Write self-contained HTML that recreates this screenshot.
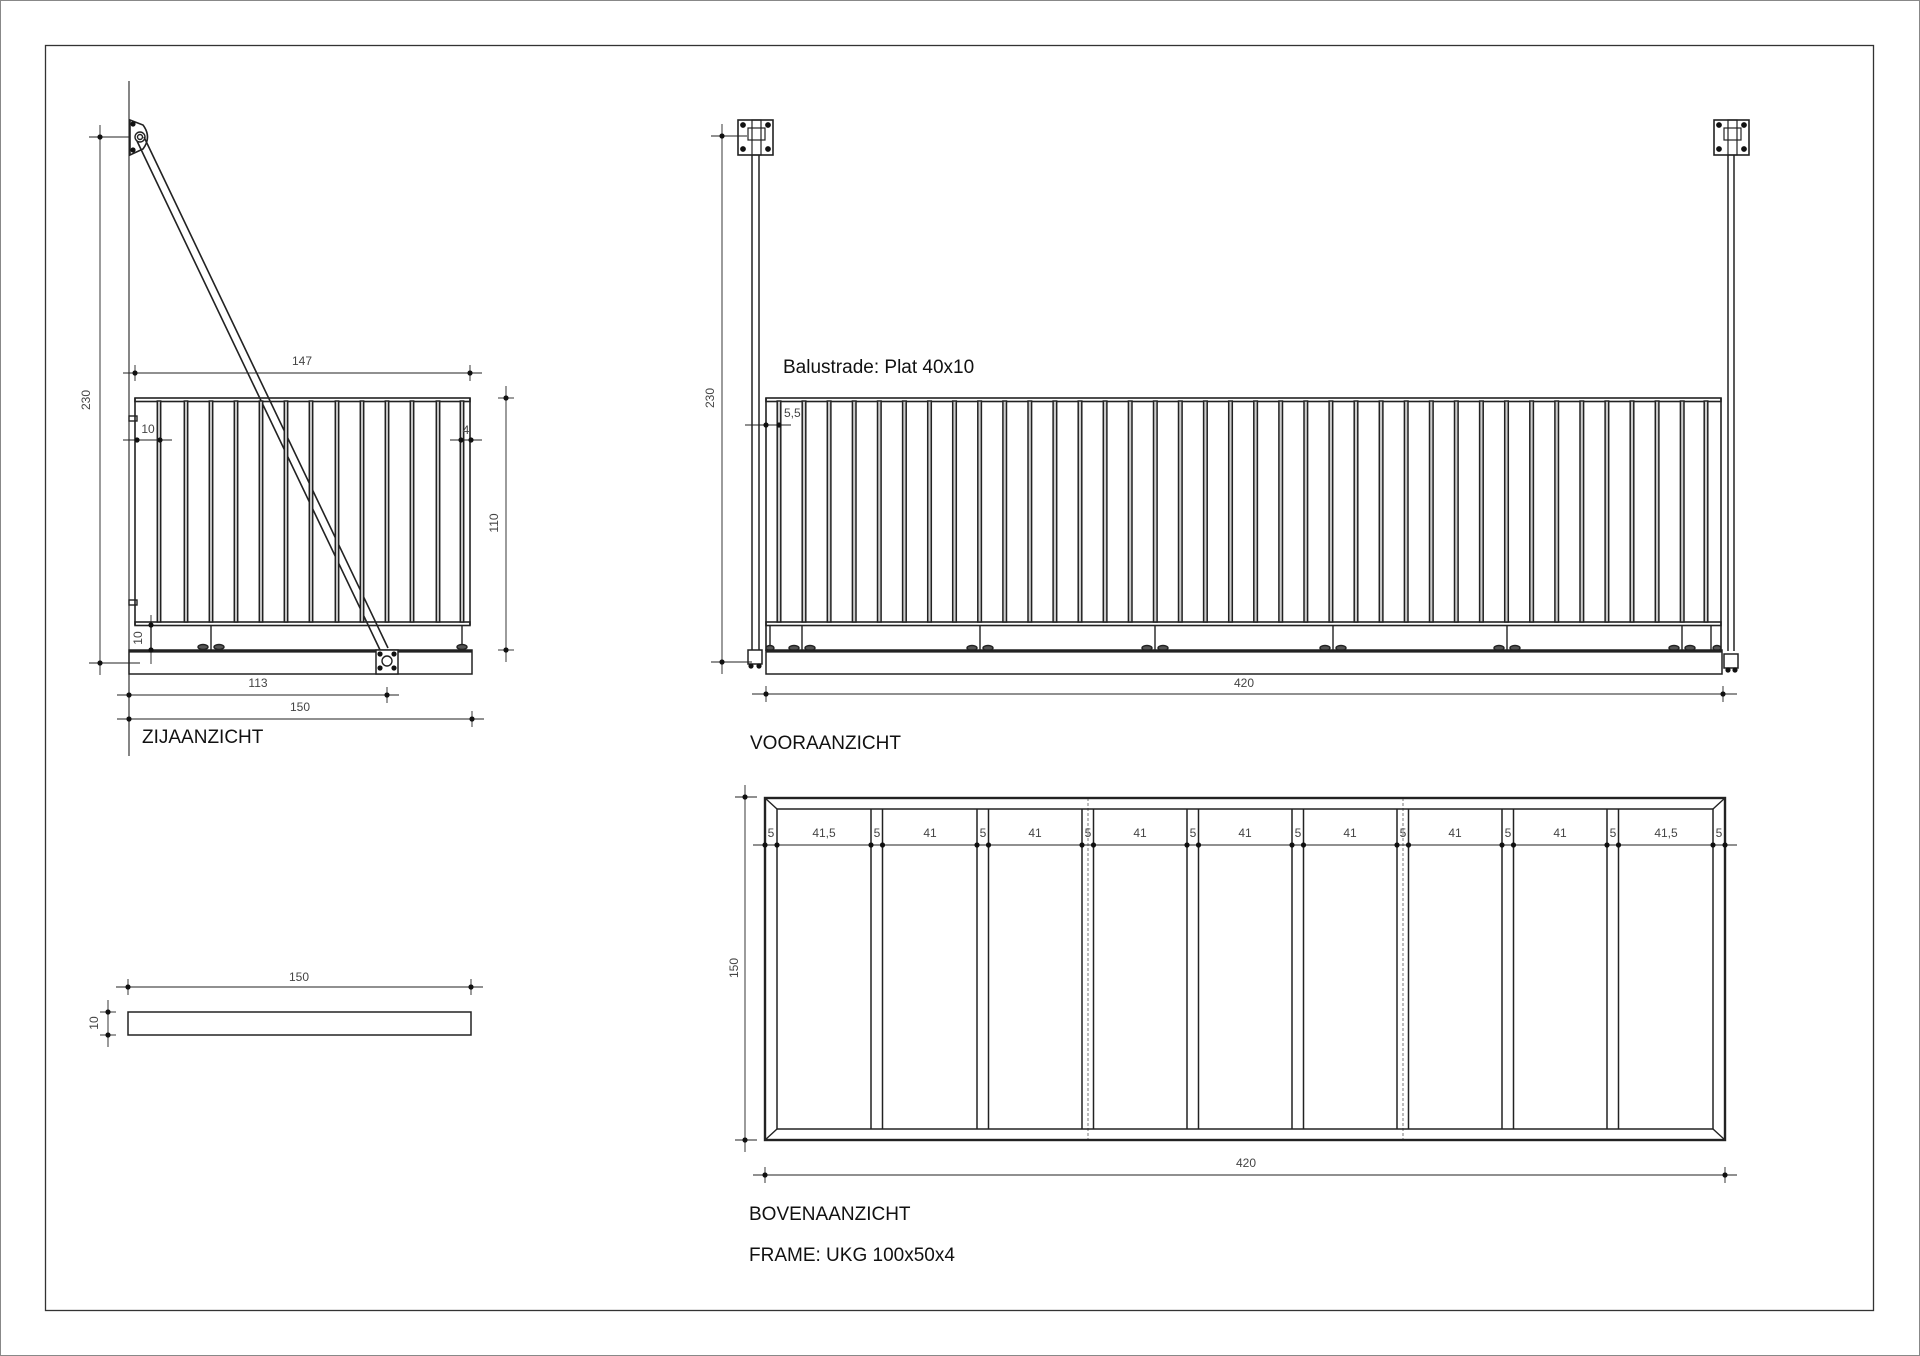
<!DOCTYPE html>
<html><head><meta charset="utf-8"><style>
html,body{margin:0;padding:0;background:#fff;}
svg{display:block;}
text{font-family:"Liberation Sans",sans-serif;}
.d{font-size:12px;fill:#444;}
.t{font-size:19px;fill:#111;}
</style></head><body>
<svg id="s" width="1920" height="1356" viewBox="0 0 1920 1356" xmlns="http://www.w3.org/2000/svg">
<rect x="0.5" y="0.5" width="1919" height="1355" fill="#fff" stroke="#888" stroke-width="1"/>
<rect x="45.5" y="45.5" width="1828" height="1265" fill="none" stroke="#333" stroke-width="1.3"/>
<g id="g" fill="none" stroke="#222" stroke-width="1.4"></g>
<g id="dots" fill="#111"></g>
<text class="d" x="90" y="400" text-anchor="middle" transform="rotate(-90 90 400)">230</text>
<text class="d" x="302" y="365" text-anchor="middle">147</text>
<text class="d" x="148" y="433" text-anchor="middle">10</text>
<text class="d" x="466" y="434" text-anchor="middle">4</text>
<text class="d" x="498" y="523" text-anchor="middle" transform="rotate(-90 498 523)">110</text>
<text class="d" x="142" y="638" text-anchor="middle" transform="rotate(-90 142 638)">10</text>
<text class="d" x="258" y="687" text-anchor="middle">113</text>
<text class="d" x="300" y="711" text-anchor="middle">150</text>
<text class="t" x="142" y="743">ZIJAANZICHT</text>
<text class="d" x="299" y="981" text-anchor="middle">150</text>
<text class="d" x="98" y="1023" text-anchor="middle" transform="rotate(-90 98 1023)">10</text>
<text class="d" x="714" y="398" text-anchor="middle" transform="rotate(-90 714 398)">230</text>
<text class="t" x="783" y="373">Balustrade: Plat 40x10</text>
<text class="d" x="784" y="417">5,5</text>
<text class="d" x="1244" y="687" text-anchor="middle">420</text>
<text class="t" x="750" y="749">VOORAANZICHT</text>
<text class="d" x="738" y="968" text-anchor="middle" transform="rotate(-90 738 968)">150</text>
<text class="d" x="1246" y="1167" text-anchor="middle">420</text>
<text class="t" x="749" y="1220">BOVENAANZICHT</text>
<text class="t" x="749" y="1261">FRAME: UKG 100x50x4</text>
<g id="tv" class="d" text-anchor="middle">
<text x="771" y="837">5</text><text x="824" y="837">41,5</text>
<text x="877" y="837">5</text><text x="930" y="837">41</text>
<text x="983" y="837">5</text><text x="1035" y="837">41</text>
<text x="1088" y="837">5</text><text x="1140" y="837">41</text>
<text x="1193" y="837">5</text><text x="1245" y="837">41</text>
<text x="1298" y="837">5</text><text x="1350" y="837">41</text>
<text x="1403" y="837">5</text><text x="1455" y="837">41</text>
<text x="1508" y="837">5</text><text x="1560" y="837">41</text>
<text x="1613" y="837">5</text><text x="1666" y="837">41,5</text>
<text x="1719" y="837">5</text>
</g>
</svg>
<script>
var g=document.getElementById('g'),D=document.getElementById('dots'),h='',dh='';
function L(a,b,c,d,w){h+='<line x1="'+a+'" y1="'+b+'" x2="'+c+'" y2="'+d+'"'+(w?' stroke-width="'+w+'"':'')+'/>';}
function R(x,y,w,hh,sw,f){h+='<rect x="'+x+'" y="'+y+'" width="'+w+'" height="'+hh+'"'+(sw?' stroke-width="'+sw+'"':'')+(f?' fill="'+f+'"':'')+'/>';}
function C(x,y,r){h+='<circle cx="'+x+'" cy="'+y+'" r="'+r+'"/>';}
function P(x,y){dh+='<circle cx="'+x+'" cy="'+y+'" r="2.6"/>';}
function hd(x1,x2,y,e){L(x1-e,y,x2+e,y,0.9);P(x1,y);P(x2,y);L(x1,y-8,x1,y+8,0.9);L(x2,y-8,x2,y+8,0.9);}
function vd(x,y1,y2,e){L(x,y1-e,x,y2+e,0.9);P(x,y1);P(x,y2);L(x-8,y1,x+8,y1,0.9);L(x-8,y2,x+8,y2,0.9);}
L(129,81,129,756,1.1);
h+='<path d="M130,120 L143,125 Q152,137 143,149 L130,155 Z" stroke-width="1.6"/>';C(140,137,5);C(140,137,2.5);
P(133,124);P(133,150);
L(137,141,381,652,1.6);L(144,137,388,648,1.6);
R(135,398,335,3.5,1.6);R(135,622,335,3.5,1.6);
L(135,398,135,625,1.6);L(470,398,470,625,1.6);
var sb=[159,186,211,236,261,286,311,337,362,387,412,438,462];
sb.forEach(function(x){R(x-1.7,401,3.4,221,1.5,'#ccc');});
L(211,625,211,650);L(462,625,462,650);L(151,625,151,650);
R(129,650,343,24,1.5);L(129,651.5,472,651.5,2.2);
R(376,650,22,24,1.5,'#fff');C(387,661,5);P(380,654);P(394,654);P(380,668);P(394,668);
[203,219,462].forEach(function(x){h+='<ellipse cx="'+x+'" cy="647" rx="5" ry="2.5" fill="#555"/>';});
R(129,416,8,5);R(129,600,8,5);
L(89,137,129,137,0.9);L(89,663,140,663,0.9);vd(100,137,663,12);
hd(135,470,373,12);
L(123,440,172,440,0.9);P(137,440);P(160,440);
L(450,440,482,440,0.9);P(461,440);P(471,440);
vd(506,398,650,12);
L(151,615,151,664,0.9);P(151,625);P(151,650);
hd(129,387,695,12);hd(129,472,719,12);
hd(128,471,987,12);R(128,1012,343,23,1.5);vd(108,1012,1035,12);
function bracket(x){R(x,120,35,35,1.6);R(x+14,120,9,35,1.2);R(x+10,128,17,12,1.2);
C(x+5,125,2.2);C(x+30,125,2.2);C(x+5,149,2.2);C(x+30,149,2.2);P(x+5,125);P(x+30,125);P(x+5,149);P(x+30,149);}
bracket(738);bracket(1714);
L(752,155,752,651,1.5);L(759,155,759,651,1.5);
L(1728,155,1728,651,1.5);L(1734,155,1734,651,1.5);
R(748,650,14,14,1.5,'#fff');R(1724,654,14,14,1.5,'#fff');
P(751,666);P(759,666);P(1728,670);P(1735,670);
R(766,398,955,3.5,1.6);R(766,622,955,3.5,1.6);
L(766,398,766,651,1.6);L(1721,398,1721,651,1.6);
var fb=[779];for(var k=0;k<=35;k++)fb.push(804+k*25.09);fb.push(1706);
fb.forEach(function(x){R((x-1.8).toFixed(1),401,3.6,221,1.5,'#ccc');});
[770,802,980,1155,1333,1507,1682,1711].forEach(function(x){L(x,625,x,651);});
[[770,0],[802,1],[980,1],[1155,1],[1333,1],[1507,1],[1682,1],[1717,0]].forEach(function(a){
 if(a[1]){h+='<ellipse cx="'+(a[0]-8)+'" cy="648" rx="5" ry="2.5" fill="#555"/><ellipse cx="'+(a[0]+8)+'" cy="648" rx="5" ry="2.5" fill="#555"/>';}
 else h+='<ellipse cx="'+a[0]+'" cy="648" rx="4" ry="2.5" fill="#555"/>';});
R(766,650,956,24,1.5);L(766,651.5,1722,651.5,2.2);
L(711,136,747,136,0.9);L(711,662,752,662,0.9);vd(722,136,662,12);
L(745,425,791,425,0.9);P(766,425);P(779,425);
hd(766,1723,694,14);
R(765,798,960,342,2.4);R(777,809,936,320,1.5);
L(765,798,777,809);L(1725,798,1713,809);L(765,1140,777,1129);L(1725,1140,1713,1129);
[871,977,1082,1187,1292,1397,1502,1607].forEach(function(x){L(x,809,x,1129,1.5);L(x+11.5,809,x+11.5,1129,1.5);});
h+='<line x1="1088" y1="798" x2="1088" y2="1140" stroke-width="0.6" stroke-dasharray="3,2"/>';
h+='<line x1="1403" y1="798" x2="1403" y2="1140" stroke-width="0.6" stroke-dasharray="3,2"/>';
L(753,845,1737,845,0.9);
[765,777,871,882.5,977,988.5,1082,1093.5,1187,1198.5,1292,1303.5,1397,1408.5,1502,1513.5,1607,1618.5,1713,1725].forEach(function(x){P(x,845);});
L(735,797,757,797,0.9);L(735,1140,757,1140,0.9);vd(745,797,1140,12);
hd(765,1725,1175,12);
g.innerHTML=h;D.innerHTML=dh;
</script>
</body></html>
